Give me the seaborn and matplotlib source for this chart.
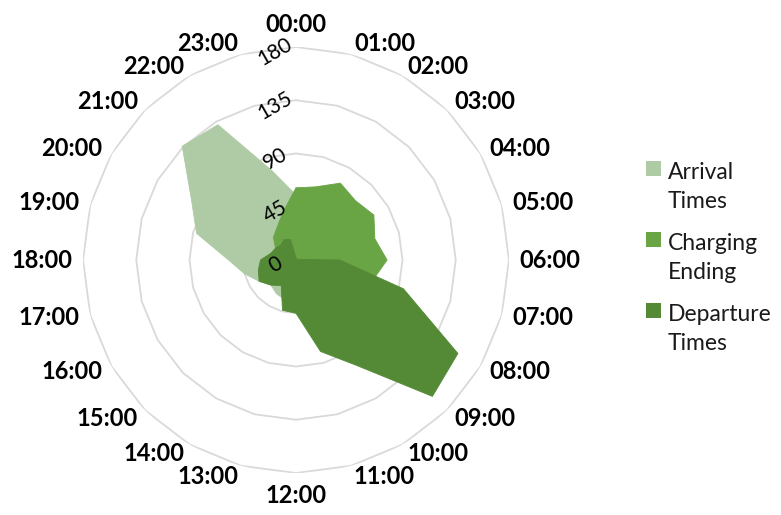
import numpy as np
import pandas as pd
import matplotlib
matplotlib.use("Agg")
import matplotlib.pyplot as plt
import seaborn as sns
from matplotlib.patches import Rectangle

# Data (hour of day, counts)
hours = ["00:00", "01:00", "02:00", "03:00", "04:00", "05:00",
         "06:00", "07:00", "08:00", "09:00", "10:00", "11:00",
         "12:00", "13:00", "14:00", "15:00", "16:00", "17:00",
         "18:00", "19:00", "20:00", "21:00", "22:00", "23:00"]
arrival = [55, 40, 25, 18, 14, 12, 12, 12, 14, 18, 22, 26,
           30, 35, 33, 30, 36, 45, 57, 87, 102, 136, 132, 78]
charging = [61, 64, 75, 71, 76, 69, 77, 67, 50, 35, 25, 20,
            18, 18, 18, 18, 18, 18, 18, 16, 20, 27, 32, 42]
departure = [2, 1, 1, 1, 1, 2, 37, 94, 158, 163, 103, 80,
             45, 44, 25, 30, 36, 33, 30, 22, 20, 18, 20, 18]
series_labels = ["Arrival\nTimes", "Charging\nEnding", "Departure\nTimes"]
series_colors = ["#AFCBA5", "#69A545", "#548A36"]
r_ticks = [0, 45, 90, 135, 180]

sns.set_theme(style="white")
plt.rcParams["font.family"] = ["Lato", "DejaVu Sans"]

df = pd.DataFrame({"hour": hours, "Arrival": arrival,
                   "Charging": charging, "Departure": departure})
df["theta"] = np.deg2rad(np.arange(len(hours)) * 360 / len(hours))
closed = pd.concat([df, df.iloc[[0]]], ignore_index=True)

fig = plt.figure(figsize=(7.81, 5.15), dpi=100)
ax = fig.add_axes([83 / 781, 42 / 515, 426 / 781, 426 / 515], projection="polar")
ax.set_theta_zero_location("N")
ax.set_theta_direction(-1)
ax.set_ylim(0, 180)

# polygon grid rings like excel
for v in r_ticks[1:]:
    ax.plot(closed["theta"], [v] * len(closed), color="#d9d9d9", lw=1.3, zorder=1)

# filled series, drawn in order
for i, col in enumerate(["Arrival", "Charging", "Departure"]):
    ax.fill(closed["theta"], closed[col], color=series_colors[i], lw=0, zorder=2 + i)
    sns.lineplot(x=closed["theta"], y=closed[col], sort=False, estimator=None,
                 color=series_colors[i], lw=0.6, ax=ax, zorder=2 + i)

ax.set_xticks([])
ax.set_yticks([])
ax.set_xlabel("")
ax.set_ylabel("")
ax.grid(False)
ax.spines["polar"].set_visible(False)

# hour labels round the outside
R = 189
for t, lab in zip(df["theta"], df["hour"]):
    s, c = np.sin(t), np.cos(t)
    ha = "left" if s > 0.05 else ("right" if s < -0.05 else "center")
    va = "center"
    if abs(s) <= 0.05:
        va = "bottom" if c > 0 else "top"
    ax.text(t, R, lab, ha=ha, va=va, fontsize=17, fontweight="bold", color="black")

# value labels, rotated
for v in r_ticks:
    ax.annotate(str(v), xy=(0, v), xytext=(-15, -3.6), textcoords="offset points",
                rotation=30, ha="center", va="center", fontsize=15,
                color="black", zorder=10)

# legend
for i, lab in enumerate(series_labels):
    yc = 168 + i * 71
    fig.add_artist(Rectangle((646 / 781, (515 - yc - 7.5) / 515), 15 / 781, 15 / 515,
                             transform=fig.transFigure, color=series_colors[i], lw=0))
    # baseline of the second line
    fig.text(668 / 781, (515 - yc - 40) / 515, lab, fontsize=16.5, va="baseline",
             ha="left", linespacing=1.48, color="#1a1a1a")

fig.savefig("out.png", dpi=100)
